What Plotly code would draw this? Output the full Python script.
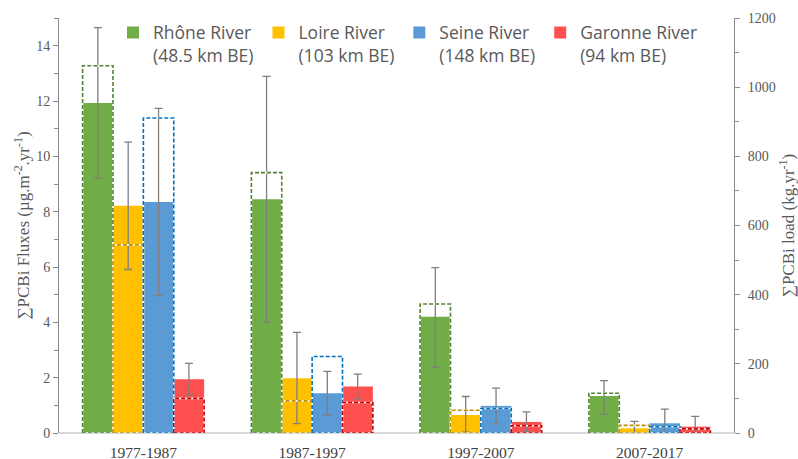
import plotly.graph_objects as go

periods = ["1977-1987", "1987-1997", "1997-2007", "2007-2017"]
rivers = ["Rhône River", "Loire River", "Seine River", "Garonne River"]
river_be = ["(48.5 km BE)", "(103 km BE)", "(148 km BE)", "(94 km BE)"]

# PCBi fluxes (µg.m-2.yr-1), left axis
flux_rhone = [11.93, 8.45, 4.2, 1.34]
flux_loire = [8.21, 1.98, 0.65, 0.17]
flux_seine = [8.35, 1.44, 0.98, 0.35]
flux_garonne = [1.94, 1.68, 0.40, 0.23]

# error bars on fluxes (plus / minus)
err_rhone_p = [2.72, 4.44, 1.78, 0.55]
err_rhone_m = [2.72, 4.44, 1.82, 0.66]
err_loire_p = [2.3, 1.66, 0.67, 0.25]
err_loire_m = [2.3, 1.64, 0.62, 0.17]
err_seine_p = [3.38, 0.79, 0.64, 0.51]
err_seine_m = [3.38, 0.79, 0.65, 0.35]
err_garonne_p = [0.58, 0.45, 0.36, 0.37]
err_garonne_m = [0.56, 0.45, 0.34, 0.23]

# PCBi loads (kg.yr-1), right axis
load_rhone = [1062, 753, 373, 115]
load_loire = [544, 93, 66, 22]
load_seine = [911, 221, 71, 18]
load_garonne = [100, 88, 21, 12]

fluxes = [flux_rhone, flux_loire, flux_seine, flux_garonne]
errp = [err_rhone_p, err_loire_p, err_seine_p, err_garonne_p]
errm = [err_rhone_m, err_loire_m, err_seine_m, err_garonne_m]
loads = [load_rhone, load_loire, load_seine, load_garonne]

fill_colors = ["#70AD47", "#FFC000", "#5B9BD5", "#FF5050"]
edge_colors = ["#548235", "#BF9000", "#0070C0", "#C00000"]

BAR_W = 0.18
GROUP_W = BAR_W * len(rivers)
xs = list(range(len(periods)))

fig = go.Figure()

for k, name in enumerate(rivers):
    off = -GROUP_W / 2 + k * BAR_W
    fig.add_trace(go.Bar(
        x=xs, y=fluxes[k], offset=off, width=BAR_W,
        name=f"{name}<br>{river_be[k]}",
        marker=dict(color=fill_colors[k], line=dict(width=0)),
        error_y=dict(type="data", array=errp[k], arrayminus=errm[k],
                     color="#7F7F7F", thickness=1.3, width=4),
        yaxis="y",
    ))

# dashed outline bars for loads
for k, name in enumerate(rivers):
    off = -GROUP_W / 2 + k * BAR_W
    ox, oy = [], []
    for i, v in zip(xs, loads[k]):
        x0 = i + off
        x1 = x0 + BAR_W
        ox += [x0, x0, x1, x1, x0, None]
        oy += [0, v, v, 0, 0, None]
    fig.add_trace(go.Scatter(x=ox, y=oy, yaxis="y2", mode="lines",
                             line=dict(color="white", width=1.6),
                             showlegend=False, hoverinfo="skip"))
    fig.add_trace(go.Scatter(x=ox, y=oy, yaxis="y2", mode="lines",
                             line=dict(color=edge_colors[k], width=1.6, dash="4px,2px"),
                             showlegend=False, hoverinfo="skip"))

tick_font = dict(family="Liberation Serif", size=14, color="#595959")
title_font = dict(family="Liberation Serif", size=17, color="#595959")

fig.update_layout(
    width=798, height=459,
    margin=dict(l=59, r=64, t=18, b=26),
    paper_bgcolor="white", plot_bgcolor="white",
    barmode="overlay",
    showlegend=True,
    legend=dict(orientation="h", x=0.08, y=1.008, xanchor="left", yanchor="top",
                font=dict(family="Open Sans", size=17.5, color="#595959"),
                valign="top",
                bgcolor="rgba(0,0,0,0)", traceorder="normal"),
    xaxis=dict(range=[-0.5, 3.5], tickvals=xs, ticktext=periods, automargin=False,
               showgrid=False, zeroline=False, showline=False, ticks="",
               ticklabelstandoff=8,
               tickfont=dict(family="Liberation Serif", size=15.5, color="#404040")),
    yaxis=dict(range=[0, 15], tickvals=[0, 2, 4, 6, 8, 10, 12, 14], automargin=False,
               showgrid=False, zeroline=True, zerolinecolor="#D9D9D9", zerolinewidth=1.5,
               showline=True, linecolor="#8C8C8C", linewidth=1,
               ticks="outside", ticklen=5, tickcolor="#8C8C8C",
               minor=dict(dtick=1, ticks="outside", ticklen=4, tickcolor="#8C8C8C"),
               tickfont=tick_font,
               title=dict(text="∑PCBi Fluxes (µg.m<sup>-2</sup>.yr<sup>-1</sup>)",
                          font=title_font, standoff=2)),
    yaxis2=dict(range=[0, 1200], overlaying="y", side="right", automargin=False,
                tickvals=[0, 200, 400, 600, 800, 1000, 1200],
                showgrid=False, zeroline=False,
                showline=True, linecolor="#8C8C8C", linewidth=1,
                ticks="outside", ticklen=5, tickcolor="#8C8C8C",
                ticklabelstandoff=5,
                minor=dict(dtick=100, ticks="outside", ticklen=4, tickcolor="#8C8C8C"),
                tickfont=tick_font,
                title=dict(text="∑PCBi load (kg.yr<sup>-1</sup>)", font=title_font, standoff=18)),
)

fig.write_html("out.html")
